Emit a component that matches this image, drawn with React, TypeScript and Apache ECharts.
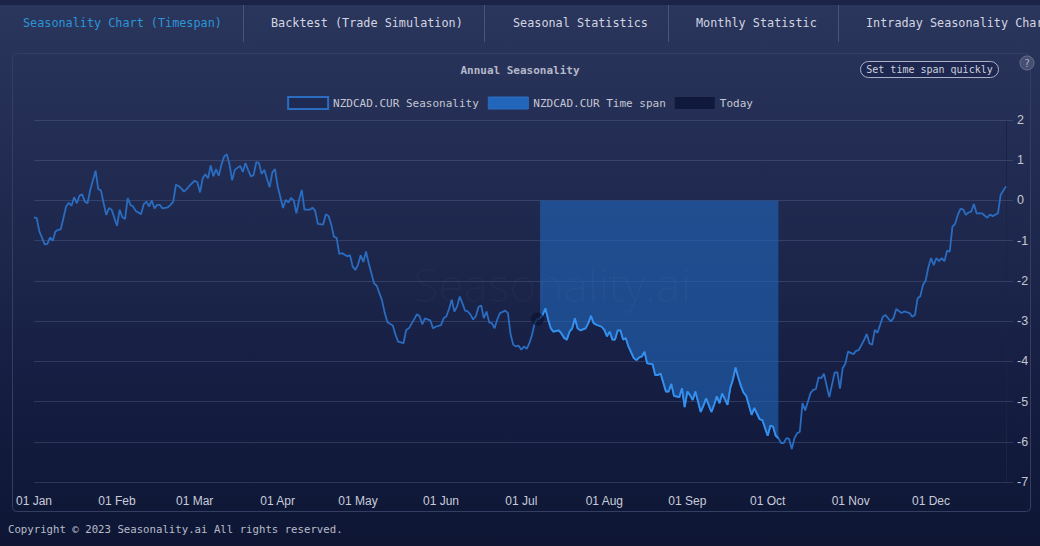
import React, { useEffect, useRef } from "react";
import * as echarts from "echarts";

// Day of year (0 = 01 Jan, leap year) and seasonal return (%)
const days = [
  0, 1, 2, 4, 5, 6, 7, 8, 9, 10, 12, 13, 14, 15, 16, 17, 18, 19, 20, 21, 23, 24, 25, 26, 27, 28, 29, 31, 32, 33, 34, 35, 36, 37, 38, 40,
  41, 42, 43, 44, 45, 46, 47, 48, 50, 51, 52, 53, 54, 55, 56, 57, 58, 60, 61, 62, 63, 64, 65, 66, 67, 68, 69, 70, 71, 72, 73, 74, 75, 77,
  78, 79, 80, 81, 82, 83, 84, 85, 86, 87, 88, 89, 90, 91, 92, 93, 94, 95, 96, 97, 98, 99, 100, 101, 103, 104, 105, 106, 108, 109, 110,
  111, 112, 113, 114, 115, 117, 118, 119, 120, 121, 122, 123, 124, 125, 127, 128, 130, 131, 132, 134, 135, 136, 138, 139, 140, 142, 143,
  144, 145, 146, 148, 149, 150, 152, 153, 154, 155, 156, 157, 158, 159, 160, 161, 162, 163, 164, 165, 166, 167, 168, 169, 170, 171, 172,
  173, 174, 176, 177, 178, 179, 180, 181, 182, 183, 184, 185, 186, 187, 188, 189, 190, 191, 192, 193, 194, 196, 197, 198, 199, 200, 201,
  202, 203, 204, 206, 207, 208, 209, 210, 212, 213, 214, 215, 216, 217, 218, 219, 220, 221, 222, 224, 225, 226, 227, 228, 229, 231, 232,
  233, 234, 236, 237, 238, 239, 241, 242, 243, 244, 245, 246, 247, 249, 250, 251, 253, 254, 255, 256, 257, 259, 260, 261, 262, 263, 264,
  265, 266, 268, 269, 271, 272, 274, 275, 276, 277, 278, 279, 280, 281, 282, 283, 284, 285, 286, 287, 288, 290, 291, 292, 293, 294, 295,
  297, 299, 300, 301, 302, 303, 304, 306, 307, 308, 310, 311, 312, 313, 314, 315, 317, 318, 320, 321, 322, 324, 325, 327, 328, 329, 330,
  331, 332, 333, 334, 335, 336, 337, 338, 339, 340, 341, 342, 343, 344, 345, 346, 347, 348, 349, 350, 351, 352, 354, 356, 357, 358, 360,
  361, 363,
];

const values = [
  -0.42, -0.44, -0.77, -1.09, -1.08, -0.92, -1.0, -0.77, -0.73, -0.72, -0.15, -0.06, -0.13, 0.08, -0.07, 0.12, 0.15, -0.03, -0.07, 0.26,
  0.74, 0.28, 0.25, -0.07, -0.36, -0.19, -0.23, -0.63, -0.23, -0.42, -0.46, 0.06, -0.11, -0.15, -0.26, -0.34,
  -0.09, -0.03, -0.15, 0.0, -0.2, -0.11, -0.11, -0.2, -0.17, -0.11, -0.03, 0.39, 0.36, 0.3, 0.22, 0.28, 0.36, 0.49, 0.45, 0.2, 0.55, 0.65,
  0.55, 0.87, 0.6, 0.78, 0.61, 0.89, 1.09, 1.15, 0.9, 0.5, 0.76, 0.86,
  0.71, 0.93, 0.75, 0.6, 0.63, 0.95, 0.93, 0.66, 0.76, 0.54, 0.33, 0.7, 0.78, 0.35, 0.08, -0.19, 0.01, -0.05, 0.06, 0.0, -0.32, 0.01,
  0.26, -0.23, -0.23, -0.18, -0.26, -0.58, -0.6, -0.34, -0.39,
  -0.6, -0.9, -0.93, -1.33, -1.31, -1.39, -1.36, -1.64, -1.73, -1.6, -1.36, -1.53, -1.27, -1.56, -2.06, -2.12, -2.49, -2.8, -3.03, -3.11,
  -3.34, -3.51, -3.55, -3.22, -3.18, -2.95, -2.83,
  -2.88, -3.08, -2.93, -2.98, -3.18, -3.14, -3.1, -2.93, -2.88, -2.7, -2.47, -2.76, -2.64, -2.39, -2.56, -2.74, -2.76, -2.84, -2.96,
  -2.88, -2.65, -2.61, -2.93, -2.76, -3.03, -3.05, -3.18,
  -2.96, -2.8, -2.74, -2.8, -3.34, -3.59, -3.63, -3.61, -3.71, -3.63, -3.69, -3.55, -3.34, -3.05, -2.95, -2.93, -2.84, -2.68, -2.96,
  -3.18, -3.26, -3.23, -3.31, -3.42, -3.46, -3.26, -3.18,
  -2.93, -3.18, -3.23, -3.18, -3.05, -2.87, -3.05, -3.09, -3.14, -3.22, -3.38, -3.26, -3.46, -3.46, -3.23, -3.23, -3.46, -3.42, -3.63,
  -3.92, -3.97, -3.9, -3.88, -3.76, -4.05, -4.07, -4.34,
  -4.34, -4.3, -4.75, -4.75, -4.56, -4.86, -4.89, -4.67, -5.14, -4.75, -4.84, -4.96, -4.75, -5.26, -5.1, -4.92, -5.26, -5.08, -4.87,
  -5.04, -4.8, -5.08, -4.67, -4.46, -4.15, -4.4, -4.61,
  -4.78, -4.86, -5.33, -5.16, -5.44, -5.46, -5.85, -5.6, -5.62, -5.85, -5.91, -6.03, -6.03, -5.91, -5.93, -6.18, -5.91, -5.79, -5.75,
  -5.04, -5.22, -4.79, -4.71, -4.69, -4.4, -4.42, -4.31,
  -4.89, -4.28, -4.27, -4.68, -4.17, -4.06, -3.76, -3.82, -3.74, -3.72, -3.47, -3.32, -3.55, -3.59, -3.22, -3.29, -2.89, -2.85, -3.01,
  -2.92, -2.7, -2.8, -2.76, -2.8, -2.89, -2.85, -2.43,
  -2.38, -2.1, -1.99, -1.66, -1.43, -1.61, -1.43, -1.51, -1.43, -1.51, -1.25, -1.27, -0.65, -0.58, -0.36, -0.21, -0.22, -0.36, -0.3,
  -0.28, -0.09, -0.32, -0.32, -0.43, -0.35, -0.39, -0.32,
  0.14, 0.35,
];

const monthStartDays = [0, 31, 60, 91, 121, 152, 182, 213, 244, 274, 305, 335];
const monthLabels = ["01 Jan", "01 Feb", "01 Mar", "01 Apr", "01 May", "01 Jun", "01 Jul", "01 Aug", "01 Sep", "01 Oct", "01 Nov", "01 Dec"];

const spanStartDay = 189;
const spanEndDay = 278;
const todayDay = 188;
const todayValue = -2.95;

const tabLabels = [
  "Seasonality Chart (Timespan)",
  "Backtest (Trade Simulation)",
  "Seasonal Statistics",
  "Monthly Statistic",
  "Intraday Seasonality Chart",
];

const seriesNames = ["NZDCAD.CUR Seasonality", "NZDCAD.CUR Time span", "Today"];

const MONO = "'DejaVu Sans Mono', 'Liberation Mono', monospace";
const SANS = "'Liberation Sans', Arial, sans-serif";

export default function App() {
  const ref = useRef<HTMLDivElement>(null);

  useEffect(() => {
    document.body.style.margin = "0";
    if (!ref.current) return;
    const chart = echarts.init(ref.current, undefined, { renderer: "svg" });

    const allData = days.map((d, i) => [d, values[i]]);
    const spanData = allData.filter((p) => p[0] >= spanStartDay && p[0] <= spanEndDay);

    const tabX = [23, 271, 513, 696, 866];
    const sepX = [243, 484, 668, 838];
    const grid = "rgba(120,135,185,0.26)";

    const graphic: any[] = [
      { type: "rect", z: -10, silent: true, shape: { x: 0, y: 0, width: 1040, height: 5 }, style: { fill: "#1b2447" } },
      ...tabLabels.map((t, i) => ({
        type: "text",
        z: 1,
        x: tabX[i],
        y: 23,
        style: {
          text: t,
          fill: i === 0 ? "#2b95d9" : "#d2d6e2",
          font: `11.8px ${MONO}`,
          verticalAlign: "middle",
        },
      })),
      ...sepX.map((x) => ({
        type: "line",
        z: 1,
        shape: { x1: x + 0.5, y1: 5, x2: x + 0.5, y2: 42 },
        style: { stroke: "#4a5478", lineWidth: 1 },
      })),
      {
        type: "rect",
        z: 0,
        silent: true,
        shape: { x: 12.5, y: 53.5, width: 1018, height: 458, r: 4 },
        style: { fill: "none", stroke: "#343e63", lineWidth: 1 },
      },
      {
        type: "text",
        z: 10,
        x: 552,
        y: 284,
        silent: true,
        style: {
          text: "Seasonality.ai",
          fill: "rgba(200,210,245,0.035)",
          font: `300 46px 'Open Sans', Lato, sans-serif`,
          align: "center",
          verticalAlign: "middle",
        },
      },
      {
        type: "rect",
        z: 5,
        shape: { x: 860.5, y: 61.5, width: 138, height: 16, r: 8 },
        style: { fill: "#1d2750", stroke: "#aab0c8", lineWidth: 1 },
      },
      {
        type: "text",
        z: 6,
        x: 929.5,
        y: 69.5,
        style: {
          text: "Set time span quickly",
          fill: "#cdd1dc",
          font: `10px ${MONO}`,
          align: "center",
          verticalAlign: "middle",
        },
      },
      {
        type: "circle",
        z: 5,
        shape: { cx: 1027, cy: 63, r: 7 },
        style: { fill: "#464e72", stroke: "#687092", lineWidth: 1 },
      },
      {
        type: "text",
        z: 6,
        x: 1027,
        y: 63.5,
        style: { text: "?", fill: "#a8aec4", font: `10px ${MONO}`, align: "center", verticalAlign: "middle" },
      },
      {
        type: "text",
        z: 1,
        x: 8,
        y: 529,
        style: {
          text: "Copyright © 2023 Seasonality.ai All rights reserved.",
          fill: "#b8bcc8",
          font: `10.7px ${MONO}`,
          verticalAlign: "middle",
        },
      },
    ];

    chart.setOption({
      animation: false,
      title: {
        text: "Annual Seasonality",
        left: "center",
        top: 60,
        textStyle: { color: "#b4b8c8", fontSize: 11, fontWeight: "bold", fontFamily: MONO },
      },
      legend: {
        top: 91,
        left: "center",
        itemWidth: 40,
        itemHeight: 12,
        itemGap: 9,
        selectedMode: false,
        textStyle: { color: "#c3c7d3", fontFamily: MONO, fontSize: 11 },
        data: [
          { name: seriesNames[0], icon: "rect", itemStyle: { color: "#1f2a52", borderColor: "#2a6cc0", borderWidth: 2 } },
          { name: seriesNames[1], icon: "rect", itemStyle: { color: "#2266bb", borderColor: "#2a6cc0", borderWidth: 1 } },
          { name: seriesNames[2], icon: "rect", itemStyle: { color: "#0b1434", borderWidth: 0 } },
        ],
      },
      grid: { left: 34, right: 34, top: 120, bottom: 64 },
      xAxis: {
        type: "value",
        min: 0,
        max: days[days.length - 1],
        splitLine: { show: false },
        axisLine: { show: false, onZero: false },
        axisTick: { show: false },
        axisLabel: {
          customValues: monthStartDays,
          formatter: (v: number) => {
            const i = monthStartDays.indexOf(v);
            return i >= 0 ? monthLabels[i] : "";
          },
          color: "#c8ccd8",
          fontSize: 12,
          fontFamily: SANS,
          margin: 13,
        },
      },
      yAxis: {
        type: "value",
        position: "right",
        min: -7,
        max: 2,
        interval: 1,
        axisLine: { show: true, onZero: false, lineStyle: { color: "#1b2343" } },
        axisTick: { show: true, length: 7, lineStyle: { color: grid } },
        splitLine: { lineStyle: { color: grid } },
        axisLabel: { color: "#c3c7d3", fontSize: 12.5, fontFamily: SANS, margin: 11 },
      },
      series: [
        {
          name: seriesNames[0],
          type: "line",
          data: allData,
          showSymbol: false,
          z: 2,
          lineStyle: { color: "#2a6cc0", width: 1.8 },
          itemStyle: { color: "#2a6cc0" },
        },
        {
          name: seriesNames[1],
          type: "line",
          data: spanData,
          showSymbol: false,
          z: 3,
          lineStyle: { color: "#3590ee", width: 1.8 },
          itemStyle: { color: "#2266bb" },
          areaStyle: { color: "rgba(33,100,182,0.9)", origin: "auto" },
        },
        {
          name: seriesNames[2],
          type: "scatter",
          data: [[todayDay, todayValue]],
          symbolSize: 13,
          z: 4,
          itemStyle: { color: "rgba(10,18,46,0.78)" },
        },
      ],
      graphic,
    });

    return () => chart.dispose();
  }, []);

  return (
    <div
      ref={ref}
      style={{
        width: 1040,
        height: 546,
        background: "linear-gradient(180deg, #2b365c 0%, #222c52 30%, #141c40 75%, #0e1634 100%)",
      }}
    />
  );
}
